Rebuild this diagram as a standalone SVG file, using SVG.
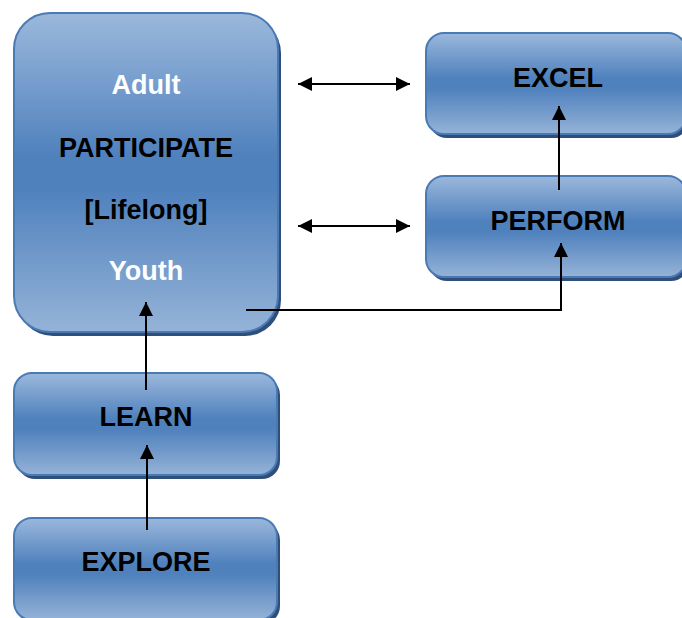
<svg xmlns="http://www.w3.org/2000/svg" width="682" height="618" viewBox="0 0 682 618">
<defs>
<linearGradient id="g" x1="0" y1="0" x2="0" y2="1">
<stop offset="0" stop-color="#9bb8dc"/>
<stop offset="0.45" stop-color="#4f81bd"/>
<stop offset="0.55" stop-color="#4f81bd"/>
<stop offset="1" stop-color="#95b3d7"/>
</linearGradient>
<marker id="ah" viewBox="0 0 10 10" refX="10" refY="5" markerWidth="8" markerHeight="7" markerUnits="strokeWidth" orient="auto-start-reverse">
<path d="M0,0 L10,5 L0,10 z" fill="#000"/>
</marker>
<style>
.box{fill:url(#g);stroke:#4a7ab5;stroke-width:2}
.sh{fill:#2f4f7a}
.t{font-family:"Liberation Sans",Arial,sans-serif;font-weight:bold;font-size:27px;text-anchor:middle}
.k{fill:#000}
.w{fill:#fff}
.c{fill:none;stroke:#000;stroke-width:2}
</style>
</defs>
<g id="participate">
<rect class="sh" x="17" y="17" width="264" height="319" rx="36"/>
<rect class="box" x="14" y="13" width="264" height="319" rx="36"/>
<text class="t w" x="146" y="94">Adult</text>
<text class="t k" x="146" y="157">PARTICIPATE</text>
<text class="t k" x="146" y="219">[Lifelong]</text>
<text class="t w" x="146" y="280">Youth</text>
</g>
<g id="excel">
<rect class="sh" x="429" y="37" width="260" height="101" rx="18"/>
<rect class="box" x="426" y="33" width="260" height="101" rx="18"/>
<text class="t k" x="558" y="87">EXCEL</text>
</g>
<g id="perform">
<rect class="sh" x="429" y="180" width="260" height="101" rx="18"/>
<rect class="box" x="426" y="176" width="260" height="101" rx="18"/>
<text class="t k" x="558" y="230">PERFORM</text>
</g>
<g id="learn">
<rect class="sh" x="17" y="377" width="263" height="102" rx="18"/>
<rect class="box" x="14" y="373" width="263" height="102" rx="18"/>
<text class="t k" x="146" y="426">LEARN</text>
</g>
<g id="explore">
<rect class="sh" x="17" y="522" width="263" height="102" rx="18"/>
<rect class="box" x="14" y="518" width="263" height="102" rx="18"/>
<text class="t k" x="146" y="571">EXPLORE</text>
</g>
<g id="connectors">
<line class="c" x1="298" y1="84" x2="410" y2="84" marker-start="url(#ah)" marker-end="url(#ah)"/>
<line class="c" x1="298" y1="226" x2="410" y2="226" marker-start="url(#ah)" marker-end="url(#ah)"/>
<line class="c" x1="559" y1="190" x2="559" y2="106" marker-end="url(#ah)"/>
<polyline class="c" points="246,310 561,310 561,243" marker-end="url(#ah)"/>
<line class="c" x1="146" y1="390" x2="146" y2="302" marker-end="url(#ah)"/>
<line class="c" x1="147" y1="530" x2="147" y2="445" marker-end="url(#ah)"/>
</g>
</svg>
